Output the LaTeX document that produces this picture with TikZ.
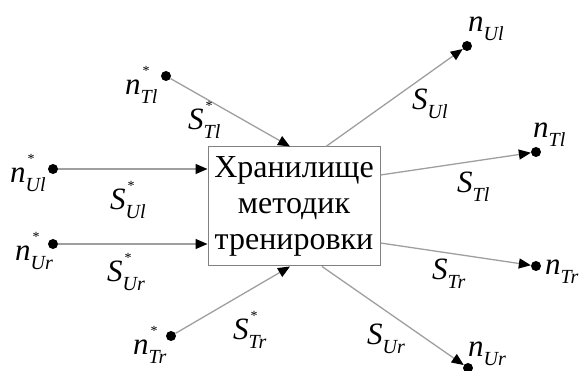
\documentclass[tikz,border=0pt]{standalone}
\usepackage{fontspec}
\setmainfont{Liberation Serif}
\usetikzlibrary{arrows.meta}

\tikzset{
  dot/.style={circle,fill=black,inner sep=0pt,minimum size=10pt},
  flow/.style={draw=gray!75,line width=1.3pt,-{Triangle[length=12pt,width=10pt,color=black]}},
  lbl/.style={font=\fontsize{31}{34}\selectfont,inner sep=0pt,anchor=base west},
}
% letter, subscript, star
\newcommand{\var}[3]{\textit{#1}\rlap{\kern2pt\raisebox{19pt}{\fontsize{14}{14}\selectfont #3}}%
  \raisebox{-9pt}{\fontsize{20}{20}\selectfont\itshape #2}}

\begin{document}
\begin{tikzpicture}[x=1pt,y=-1pt]
\useasboundingbox (0,0) rectangle (582,371);
\node[draw=gray,line width=1pt,minimum width=172pt,minimum height=119pt,inner sep=0pt,
  align=center,font=\fontsize{32}{36}\selectfont] (store) at (294,206.5)
  {Хранилище\\методик\\тренировки};
% dots: inputs (s) and outputs (t)
\foreach \n/\x/\y in {sTl/166/76,sUl/53/169,sUr/53/244,sTr/171/336,
                      tUl/467/46,tTl/536/152,tTr/536/266,tUr/468/368}
  \node[dot] (\n) at (\x,\y) {};
% point labels
\node[lbl] (lsTl) at (125,95) {\var{n}{Tl}{*}};
\node[lbl] (lsUl) at (10,183) {\var{n}{Ul}{*}};
\node[lbl] (lsUr) at (15,261) {\var{n}{Ur}{*}};
\node[lbl] (lsTr) at (133,355) {\var{n}{Tr}{*}};
\node[lbl] (ltUl) at (468,32) {\var{n}{Ul}{}};
\node[lbl] (ltTl) at (533,138) {\var{n}{Tl}{}};
\node[lbl] (ltTr) at (545,275) {\var{n}{Tr}{}};
\node[lbl] (ltUr) at (468,357) {\var{n}{Ur}{}};
% flows in
\draw[flow] (sTl) -- ([xshift=-4pt]store.north);
\draw[flow] (sUl) -- (store.west |- sUl);
\draw[flow] (sUr) -- (store.west |- sUr);
\draw[flow] (sTr) -- ([xshift=-4pt]store.south);
% flows out
\draw[flow] ([xshift=32pt]store.north) -- (tUl);
\draw[flow] ([yshift=31.5pt]store.east) -- (tTl);
\draw[flow] ([yshift=-36.5pt]store.east) -- (tTr);
\draw[flow] ([xshift=28pt]store.south) -- (tUr);
% flow labels
\node[lbl] (fsTl) at (188,130) {\var{S}{Tl}{*}};
\node[lbl] (fsUl) at (110,210) {\var{S}{Ul}{*}};
\node[lbl] (fsUr) at (107,282) {\var{S}{Ur}{*}};
\node[lbl] (fsTr) at (233,340) {\var{S}{Tr}{*}};
\node[lbl] (ftUl) at (412,110) {\var{S}{Ul}{}};
\node[lbl] (ftTl) at (457,193) {\var{S}{Tl}{}};
\node[lbl] (ftTr) at (432,280) {\var{S}{Tr}{}};
\node[lbl] (ftUr) at (367,345) {\var{S}{Ur}{}};
\end{tikzpicture}
\end{document}
